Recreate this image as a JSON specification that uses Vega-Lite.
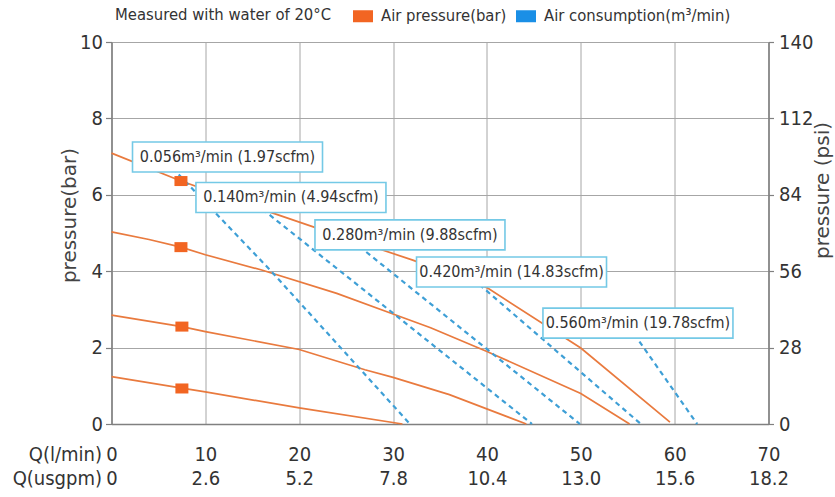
{
  "$schema": "https://vega.github.io/schema/vega-lite/v6.json",
  "width": 657,
  "height": 382,
  "autosize": {"type": "none"},
  "padding": {"left": 111.5, "top": 42, "right": 66.5, "bottom": 73},
  "background": "white",
  "config": {
    "view": {"stroke": null},
    "font": "DejaVu Sans Condensed, sans-serif",
    "axis": {
      "domainColor": "#808080",
      "domainWidth": 1.6,
      "gridColor": "#a6a6a6",
      "gridWidth": 1,
      "tickColor": "#808080",
      "tickWidth": 1.2,
      "labelColor": "#333333",
      "labelFont": "DejaVu Sans Condensed, sans-serif",
      "labelFontSize": 20,
      "titleColor": "#444444",
      "titleFontWeight": "normal"
    }
  },
  "datasets": {
    "pressure": [
      {"series": "p1", "q": 0, "bar": 7.09},
      {"series": "p1", "q": 7.4, "bar": 6.36},
      {"series": "p1", "q": 17.2, "bar": 5.52},
      {"series": "p1", "q": 21.5, "bar": 5.16},
      {"series": "p1", "q": 32.1, "bar": 4.29},
      {"series": "p1", "q": 40, "bar": 3.57},
      {"series": "p1", "q": 50, "bar": 1.99},
      {"series": "p1", "q": 59.5, "bar": 0.05},
      {"series": "p2", "q": 0, "bar": 5.03},
      {"series": "p2", "q": 4, "bar": 4.83},
      {"series": "p2", "q": 7.4, "bar": 4.63},
      {"series": "p2", "q": 10, "bar": 4.43},
      {"series": "p2", "q": 16, "bar": 4.03},
      {"series": "p2", "q": 24, "bar": 3.42},
      {"series": "p2", "q": 30, "bar": 2.88},
      {"series": "p2", "q": 34, "bar": 2.52},
      {"series": "p2", "q": 40, "bar": 1.9},
      {"series": "p2", "q": 50, "bar": 0.8},
      {"series": "p2", "q": 55.2, "bar": 0},
      {"series": "p3", "q": 0, "bar": 2.85},
      {"series": "p3", "q": 7.5, "bar": 2.55},
      {"series": "p3", "q": 10, "bar": 2.42},
      {"series": "p3", "q": 20, "bar": 1.95},
      {"series": "p3", "q": 27, "bar": 1.42},
      {"series": "p3", "q": 30, "bar": 1.22},
      {"series": "p3", "q": 36, "bar": 0.77},
      {"series": "p3", "q": 44.2, "bar": 0},
      {"series": "p4", "q": 0, "bar": 1.24},
      {"series": "p4", "q": 7.5, "bar": 0.94},
      {"series": "p4", "q": 10, "bar": 0.84},
      {"series": "p4", "q": 20, "bar": 0.42},
      {"series": "p4", "q": 31, "bar": 0}
    ],
    "air": [
      {"curve": "0.056", "q": 6.5, "bar": 6.7},
      {"curve": "0.056", "q": 16.9, "bar": 4.03},
      {"curve": "0.056", "q": 31.8, "bar": 0},
      {"curve": "0.140", "q": 16.1, "bar": 5.62},
      {"curve": "0.140", "q": 30, "bar": 2.9},
      {"curve": "0.140", "q": 44.8, "bar": 0},
      {"curve": "0.280", "q": 26.4, "bar": 4.65},
      {"curve": "0.280", "q": 49.9, "bar": 0},
      {"curve": "0.420", "q": 39.2, "bar": 3.65},
      {"curve": "0.420", "q": 56.4, "bar": 0},
      {"curve": "0.560", "q": 55.7, "bar": 2.35},
      {"curve": "0.560", "q": 62.4, "bar": 0}
    ],
    "markers": [
      {"kind": "Air pressure(bar)", "q": 7.4, "bar": 6.36},
      {"kind": "Air pressure(bar)", "q": 7.4, "bar": 4.63},
      {"kind": "Air pressure(bar)", "q": 7.5, "bar": 2.55},
      {"kind": "Air pressure(bar)", "q": 7.5, "bar": 0.93}
    ],
    "labels": [
      {"text": "0.056m³/min (1.97scfm)", "q": 12.36, "bar": 6.99},
      {"text": "0.140m³/min (4.94scfm)", "q": 19.12, "bar": 5.93},
      {"text": "0.280m³/min (9.88scfm)", "q": 31.8, "bar": 4.95},
      {"text": "0.420m³/min (14.83scfm)", "q": 42.62, "bar": 3.98},
      {"text": "0.560m³/min (19.78scfm)", "q": 56.09, "bar": 2.64}
    ]
  },
  "layer": [
    {
      "data": {"name": "pressure"},
      "mark": {"type": "line", "color": "#E97A3E", "strokeWidth": 1.7},
      "encoding": {
        "x": {
          "field": "q", "type": "quantitative",
          "scale": {"domain": [0, 70]},
          "axis": {
            "values": [0, 10, 20, 30, 40, 50, 60, 70],
            "grid": true,
            "ticks": false,
            "labelFlush": false,
            "labelPadding": 20,
            "labelBaseline": "top",
            "labelLineHeight": 24,
            "labelExpr": "[datum.label, datum.value === 0 ? '0' : format(datum.value * 0.26, '.1f')]",
            "title": ["Q(l/min)", "Q(usgpm)"],
            "titleFont": "DejaVu Sans Condensed, sans-serif",
            "titleFontSize": 20,
            "titleColor": "#333333",
            "titleAlign": "right",
            "titleBaseline": "top",
            "titleLineHeight": 24,
            "titleX": -10,
            "titleY": 20
          }
        },
        "y": {
          "field": "bar", "type": "quantitative",
          "scale": {"domain": [0, 10]},
          "axis": {
            "orient": "left",
            "values": [0, 2, 4, 6, 8, 10],
            "grid": true,
            "tickSize": 6,
            "labelPadding": 3,
            "title": "pressure(bar)",
            "titleFont": "DejaVu Sans, sans-serif",
            "titleFontSize": 20,
            "titleAngle": 270,
            "titleAlign": "center",
            "titleBaseline": "middle",
            "titleX": -42.5,
            "titleY": 173
          }
        },
        "detail": {"field": "series"}
      }
    },
    {
      "data": {"name": "air"},
      "mark": {"type": "line", "color": "#3E9FD6", "strokeWidth": 2.2, "strokeDash": [5, 4]},
      "encoding": {
        "x": {"field": "q", "type": "quantitative"},
        "y": {"field": "bar", "type": "quantitative", "axis": null},
        "detail": {"field": "curve"}
      }
    },
    {
      "data": {"name": "labels"},
      "mark": {
        "type": "point",
        "shape": "M-1,-0.158L1,-0.158L1,0.158L-1,0.158Z",
        "size": 36100,
        "filled": false,
        "fill": "white",
        "fillOpacity": 1,
        "stroke": "#74C9E6",
        "strokeWidth": 1.6,
        "opacity": 1
      },
      "encoding": {
        "x": {"field": "q", "type": "quantitative"},
        "y": {"field": "bar", "type": "quantitative", "axis": null}
      }
    },
    {
      "data": {"name": "labels"},
      "mark": {
        "type": "text",
        "align": "center",
        "baseline": "middle",
        "font": "DejaVu Sans Condensed, sans-serif",
        "fontSize": 16,
        "color": "#333333"
      },
      "encoding": {
        "x": {"field": "q", "type": "quantitative"},
        "y": {"field": "bar", "type": "quantitative", "axis": null},
        "text": {"field": "text"}
      }
    },
    {
      "data": {"name": "markers"},
      "mark": {
        "type": "point",
        "shape": "M-1,-0.77L1,-0.77L1,0.77L-1,0.77Z",
        "size": 169,
        "filled": true,
        "opacity": 1
      },
      "encoding": {
        "x": {"field": "q", "type": "quantitative"},
        "y": {
          "field": "bar", "type": "quantitative",
          "axis": {
            "orient": "right",
            "values": [0, 2, 4, 6, 8, 10],
            "labelExpr": "format(datum.value * 14, 'd')",
            "grid": false,
            "tickSize": 5,
            "labelPadding": 5,
            "title": "pressure (psi)",
            "titleFont": "DejaVu Sans, sans-serif",
            "titleFontSize": 20,
            "titleAngle": 270,
            "titleAlign": "center",
            "titleBaseline": "middle",
            "titleX": 53.5,
            "titleY": 148
          }
        },
        "fill": {
          "field": "kind", "type": "nominal",
          "scale": {"domain": ["Air pressure(bar)", "Air consumption(m³/min)"], "range": ["#F26522", "#1A8FE6"]},
          "legend": {
            "orient": "none",
            "legendX": 3.5,
            "legendY": -36,
            "direction": "horizontal",
            "title": "Measured with water of 20°C",
            "titleOrient": "left",
            "titleFont": "DejaVu Sans Condensed, sans-serif",
            "titleFontSize": 16.5,
            "titleFontWeight": "normal",
            "titleColor": "#333333",
            "titleLimit": 400,
            "titlePadding": 21,
            "titleBaseline": "middle",
            "labelFont": "DejaVu Sans Condensed, sans-serif",
            "labelFontSize": 16.5,
            "labelColor": "#333333",
            "labelLimit": 400,
            "labelOffset": 8,
            "columnPadding": 9,
            "symbolType": "M-1,-0.6L1,-0.6L1,0.6L-1,0.6Z",
            "symbolSize": 400,
            "symbolStrokeWidth": 0,
            "padding": 0
          }
        }
      }
    }
  ],
  "resolve": {"axis": {"y": "independent"}}
}
